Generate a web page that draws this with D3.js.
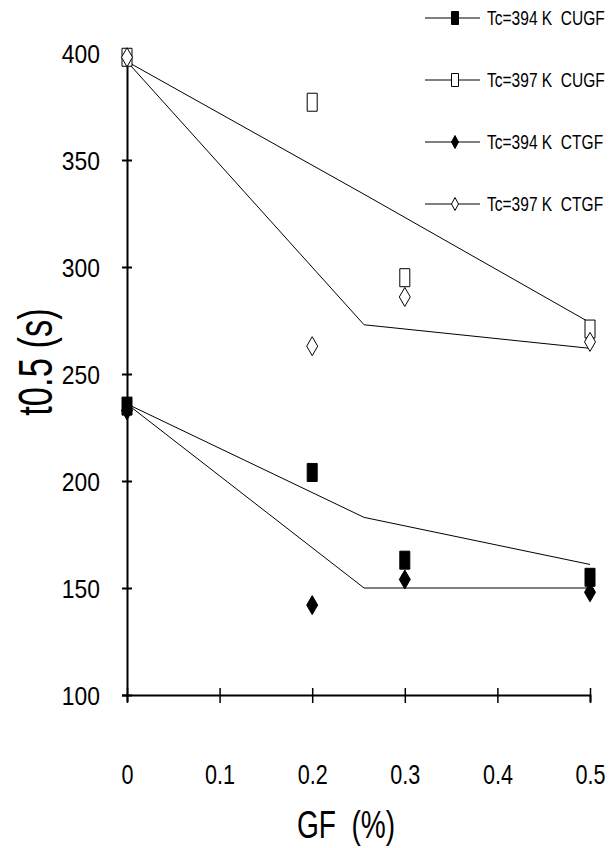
<!DOCTYPE html>
<html>
<head>
<meta charset="utf-8">
<script src="https://cdn.jsdelivr.net/npm/d3@7"></script>
<style>
  body { margin: 0; background: #fff; }
  svg { display: block; }
  text { font-family: "Liberation Sans", Arial, sans-serif; fill: #000; white-space: pre; }
</style>
</head>
<body>
<div class="chart"></div>
<script>
// half time of crystallisation vs graphite fibre content

var gf = [0, 0.2, 0.3, 0.5];
var cugf394 = [235, 204, 163, 155];
var cugf397 = [398, 377, 295, 271];
var ctgf394 = [233, 142, 154, 148];
var ctgf397 = [398, 263, 286, 265];

// model curves (two segments each)
var fitX = [0, 0.256, 0.5];
var fit397a = [396, 334, 274];
var fit397b = [396, 273, 262];
var fit394a = [236, 183, 161];
var fit394b = [236, 150, 150];

var xTicks = [0, 0.1, 0.2, 0.3, 0.4, 0.5];
var yTicks = [100, 150, 200, 250, 300, 350, 400];
var legendLabels = ['Tc=394 K  CUGF', 'Tc=397 K  CUGF', 'Tc=394 K  CTGF', 'Tc=397 K  CTGF'];

var width = 611, height = 848;

var svg = d3.select('.chart')
  .append('svg')
  .attr('width', width)
  .attr('height', height);

var x = d3.scaleLinear().domain([0, 0.5]).range([127, 590]);
var y = d3.scaleLinear().domain([100, 400]).range([695, 53]);

// axes
var yAxis = svg.append('g')
  .attr('transform', 'translate(' + x(0) + ',0)')
  .call(d3.axisLeft(y).tickValues(yTicks).tickSizeOuter(0).tickSize(5));
yAxis.select('.domain').attr('stroke-width', 2);
yAxis.selectAll('.tick line').attr('x1', -5).attr('x2', 5).attr('stroke-width', 2);
yAxis.selectAll('.tick text')
  .attr('x', 0).attr('dy', null).attr('y', 9)
  .attr('transform', 'translate(-27,0) scale(0.88,1)')
  .style('font-size', '26px')
  .attr('text-anchor', 'end')
  .attr('fill', '#000');

var xAxis = svg.append('g')
  .attr('transform', 'translate(0,' + y(100) + ')')
  .call(d3.axisBottom(x).tickValues(xTicks).tickFormat(function(d){ return d === 0 ? '0' : d3.format('.1f')(d); }).tickSizeOuter(0).tickSize(7));
xAxis.select('.domain').attr('stroke-width', 2);
xAxis.selectAll('.tick line').attr('y1', -7).attr('y2', 8).attr('stroke-width', 1.5);
xAxis.selectAll('.tick text')
  .attr('y', 0).attr('dy', null)
  .attr('transform', 'translate(0,89) scale(0.8,1)')
  .style('font-size', '27px')
  .attr('fill', '#000');

// axis titles
svg.append('text')
  .attr('transform', 'translate(346,838) scale(0.72,1)')
  .attr('text-anchor', 'middle')
  .style('font-size', '39px')
  .text('GF  (%)');

svg.append('text')
  .attr('transform', 'translate(52,362) rotate(-90) scale(0.72,1)')
  .attr('text-anchor', 'middle')
  .style('font-size', '48px')
  .text('t0.5 (s)');

// fitted lines
var line = d3.line()
  .x(function(d, i){ return x(fitX[i]); })
  .y(function(d){ return y(d); });

[fit397a, fit397b, fit394a, fit394b].forEach(function(f){
  svg.append('path')
    .attr('d', line(f))
    .attr('fill', 'none')
    .attr('stroke', '#000')
    .attr('stroke-width', 1);
});

// markers
var rectPath = function(w, h){
  return 'M' + (-w/2) + ',' + (-h/2) + 'h' + w + 'v' + h + 'h' + (-w) + 'Z';
};
var diamondPath = function(w, h){
  return 'M0,' + (-h/2) + 'L' + (w/2) + ',0L0,' + (h/2) + 'L' + (-w/2) + ',0Z';
};

var series = [
  { vals: ctgf394, shape: diamondPath, fill: '#000' },
  { vals: cugf394, shape: rectPath, fill: '#000' },
  { vals: cugf397, shape: rectPath, fill: '#fff' },
  { vals: ctgf397, shape: diamondPath, fill: '#fff' }
];

series.forEach(function(s){
  svg.append('g').selectAll('path')
    .data(s.vals)
    .enter().append('path')
    .attr('d', s.shape === rectPath ? rectPath(10, 18) : diamondPath(11, 19))
    .attr('transform', function(d, i){ return 'translate(' + x(gf[i]) + ',' + y(d) + ')'; })
    .attr('fill', s.fill)
    .attr('stroke', '#000')
    .attr('stroke-width', 1);
});

// legend
var legendOrder = [series[1], series[2], series[0], series[3]];
var legend = svg.append('g');
legendLabels.forEach(function(label, i){
  var ly = 18 + i * 62;
  var s = legendOrder[i];
  legend.append('line')
    .attr('x1', 425).attr('x2', 480)
    .attr('y1', ly).attr('y2', ly)
    .attr('stroke', '#000').attr('stroke-width', 1);
  legend.append('path')
    .attr('d', s.shape === rectPath ? rectPath(7, 13) : diamondPath(7, 13))
    .attr('transform', 'translate(455,' + ly + ')')
    .attr('fill', s.fill)
    .attr('stroke', '#000')
    .attr('stroke-width', 1);
  legend.append('text')
    .attr('transform', 'translate(487,' + (ly + 7) + ') scale(0.74,1)')
    .style('font-size', '21px')
    .text(label);
});
</script>
</body>
</html>
